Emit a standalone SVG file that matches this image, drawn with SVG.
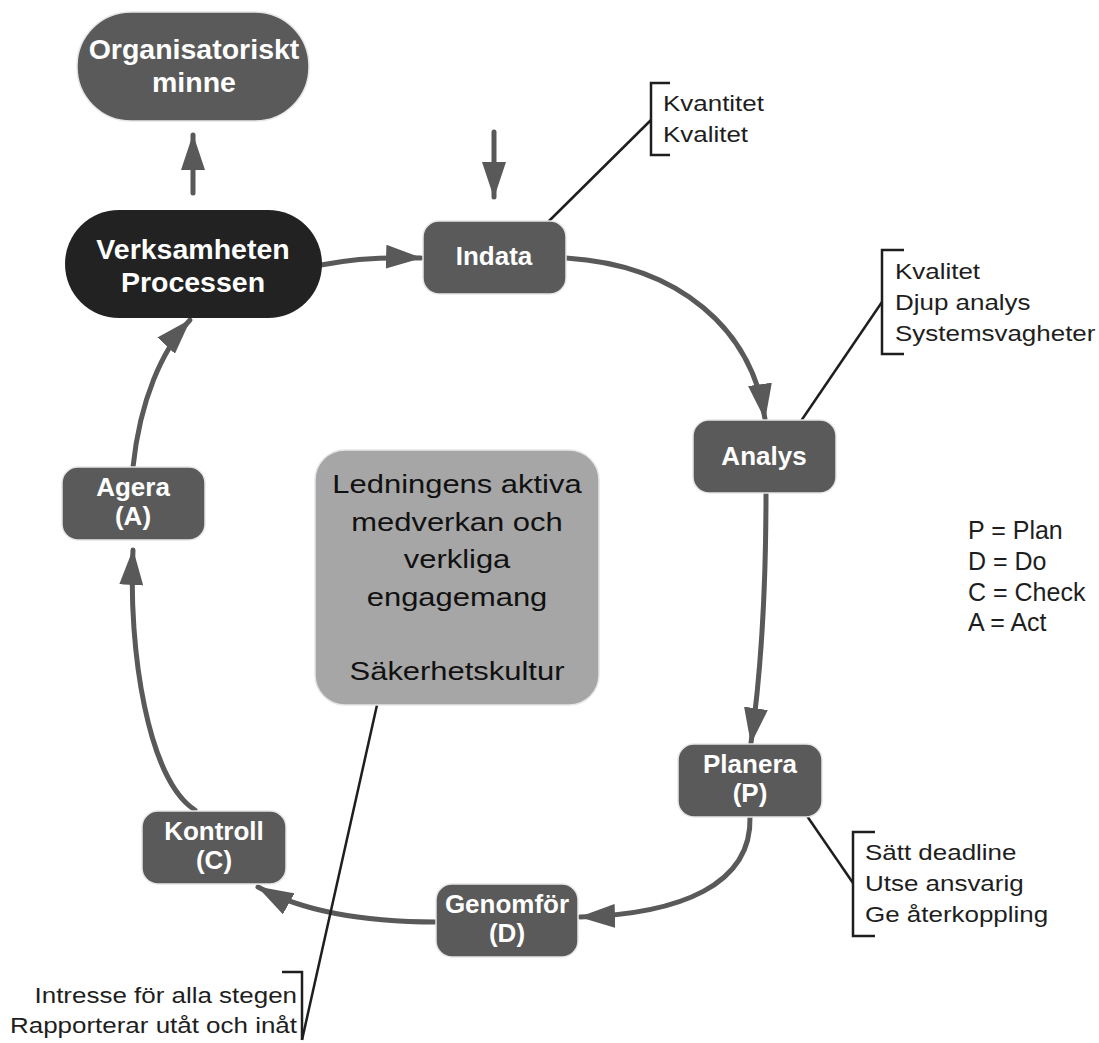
<svg xmlns="http://www.w3.org/2000/svg" width="1099" height="1043" viewBox="0 0 1099 1043">
<style>
.box{fill:#5a5a5a;stroke:#e6e6e6;stroke-width:1.5}
.lbl{font-family:"Liberation Sans",Arial,sans-serif;font-weight:bold;fill:#fff;text-anchor:middle;font-size:26px}
.big{font-size:28.5px}
.conn{fill:none;stroke:#595959;stroke-width:5;stroke-linecap:round}
.lead{fill:none;stroke:#1e1e1e;stroke-width:2.5}
.note{font-family:"Liberation Sans",Arial,sans-serif;font-size:22px;fill:#1e1e1e}
.leg{font-family:"Liberation Sans",Arial,sans-serif;font-size:25px;fill:#1e1e1e}
</style>
<defs>
<marker id="ah" markerUnits="userSpaceOnUse" markerWidth="36" markerHeight="24" viewBox="0 0 36 24" refX="35" refY="12" orient="auto">
<path d="M0,0 L36,12 L0,24 z" fill="#595959"/>
</marker>
</defs>
<rect width="1099" height="1043" fill="#fff"/>
<g id="connectors">
<path class="conn" d="M193,193 L193,135" marker-end="url(#ah)"/>
<path class="conn" d="M494,132 L494,197" marker-end="url(#ah)"/>
<path class="conn" d="M321,265 Q365,256 421,258" marker-end="url(#ah)"/>
<path class="conn" d="M566,258 C680,265 752,330 765,419" marker-end="url(#ah)"/>
<path class="conn" d="M766,493 C766,600 760,680 751,743" marker-end="url(#ah)"/>
<path class="conn" d="M750,817 C752,885 680,914 580,917" marker-end="url(#ah)"/>
<path class="conn" d="M436,922 C360,922 300,910 258,887" marker-end="url(#ah)"/>
<path class="conn" d="M195,810 C148,780 128,650 133,550" marker-end="url(#ah)"/>
<path class="conn" d="M133,467 C140,400 162,350 190,320" marker-end="url(#ah)"/>
<path class="lead" d="M548,222 L651,120"/>
<path class="lead" d="M801,421 L882,302"/>
<path class="lead" d="M807,816 L853,883"/>
<path class="lead" d="M377,705 L302,1040"/>
</g>
<g id="memory">
<rect class="box" x="77" y="12" width="232" height="109" rx="54"/>
<text class="lbl big" x="194" y="59">Organisatoriskt</text>
<text class="lbl big" x="194" y="92">minne</text>
</g>
<g id="verksamheten">
<rect x="65" y="210" width="257" height="108" rx="54" fill="#222"/>
<text class="lbl big" x="193" y="259">Verksamheten</text>
<text class="lbl big" x="193" y="292">Processen</text>
</g>
<g id="indata">
<rect class="box" x="423" y="221" width="143" height="73" rx="16"/>
<text class="lbl" x="494" y="265">Indata</text>
</g>
<g id="analys">
<rect class="box" x="693" y="420" width="143" height="73" rx="16"/>
<text class="lbl" x="764" y="465">Analys</text>
</g>
<g id="planera">
<rect class="box" x="678" y="744" width="144" height="73" rx="16"/>
<text class="lbl" x="750" y="773">Planera</text>
<text class="lbl" x="750" y="802">(P)</text>
</g>
<g id="genomfor">
<rect class="box" x="436" y="884" width="142" height="73" rx="16"/>
<text class="lbl" x="507" y="913">Genomför</text>
<text class="lbl" x="507" y="942">(D)</text>
</g>
<g id="kontroll">
<rect class="box" x="142" y="811" width="144" height="73" rx="16"/>
<text class="lbl" x="214" y="840">Kontroll</text>
<text class="lbl" x="214" y="869">(C)</text>
</g>
<g id="agera">
<rect class="box" x="62" y="467" width="143" height="73" rx="16"/>
<text class="lbl" x="133" y="496">Agera</text>
<text class="lbl" x="133" y="525">(A)</text>
</g>
<g id="ledning">
<rect x="315" y="450" width="284" height="255" rx="30" fill="#a6a6a6" stroke="#e6e6e6" stroke-width="1.5"/>
<g transform="translate(457 0) scale(1.19 1)" font-family="'Liberation Sans',Arial,sans-serif" font-size="26" fill="#111" text-anchor="middle">
<text x="0" y="493">Ledningens aktiva</text>
<text x="0" y="531">medverkan och</text>
<text x="0" y="568">verkliga</text>
<text x="0" y="606">engagemang</text>
<text x="0" y="680">Säkerhetskultur</text>
</g>
</g>
<g id="note-indata">
<path class="lead" d="M670,83 L651,83 L651,155 L670,155"/>
<g transform="translate(663 0) scale(1.18 1)">
<text class="note" x="0" y="111">Kvantitet</text>
<text class="note" x="0" y="142">Kvalitet</text>
</g>
</g>
<g id="note-analys">
<path class="lead" d="M904,250 L882,250 L882,354 L904,354"/>
<g transform="translate(895 0) scale(1.18 1)">
<text class="note" x="0" y="279">Kvalitet</text>
<text class="note" x="0" y="310">Djup analys</text>
<text class="note" x="0" y="341">Systemsvagheter</text>
</g>
</g>
<g id="note-planera">
<path class="lead" d="M875,832 L853,832 L853,936 L875,936"/>
<g transform="translate(865 0) scale(1.18 1)">
<text class="note" x="0" y="860">Sätt deadline</text>
<text class="note" x="0" y="891">Utse ansvarig</text>
<text class="note" x="0" y="922">Ge återkoppling</text>
</g>
</g>
<g id="note-ledning">
<path class="lead" d="M282,972 L302,972 L302,1040"/>
<g transform="translate(297 0) scale(1.18 1)">
<text class="note" x="0" y="1003" text-anchor="end">Intresse för alla stegen</text>
<text class="note" x="0" y="1033" text-anchor="end">Rapporterar utåt och inåt</text>
</g>
</g>
<g id="legend">
<text class="leg" x="968" y="539">P = Plan</text>
<text class="leg" x="968" y="570">D = Do</text>
<text class="leg" x="968" y="601">C = Check</text>
<text class="leg" x="968" y="631">A = Act</text>
</g>
</svg>
